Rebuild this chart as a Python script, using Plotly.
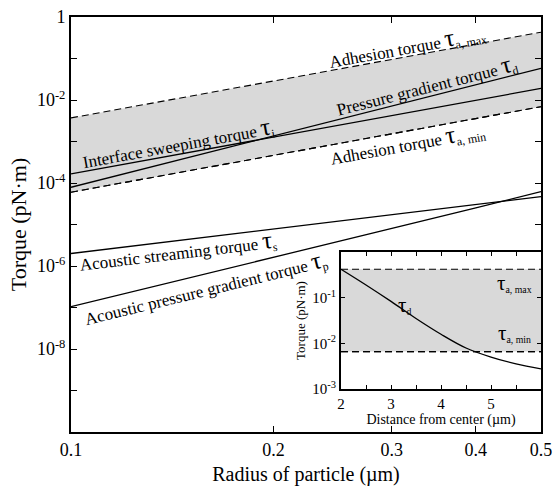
import plotly.graph_objects as go

# ---------------- data ----------------
radius = [0.1, 0.2, 0.3, 0.4, 0.5]  # µm
tau_a_max = [3.7e-3, 2.9e-2, 9.5e-2, 0.22, 0.43]
tau_a_min = [6.0e-5, 4.7e-4, 1.55e-3, 3.6e-3, 6.9e-3]
tau_i = [1.66e-4, 1.29e-3, 4.3e-3, 1.0e-2, 1.9e-2]
tau_d = [7.9e-5, 1.35e-3, 7.1e-3, 2.3e-2, 5.8e-2]
tau_s = [2.0e-6, 7.9e-6, 1.74e-5, 3.0e-5, 4.7e-5]
tau_p = [1.05e-7, 1.6e-6, 8.1e-6, 2.5e-5, 6.2e-5]

y_tickvals = [1, 1e-2, 1e-4, 1e-6, 1e-8]
y_ticktext = ["1", "10<sup>-2</sup>", "10<sup>-4</sup>", "10<sup>-6</sup>", "10<sup>-8</sup>"]
y_minor = [1e-1, 1e-3, 1e-5, 1e-7, 1e-9]
x_tickvals = [0.1, 0.2, 0.3, 0.4, 0.5]
x_ticktext = ["0.1", "0.2", "0.3", "0.4", "0.5"]

# inset: torque vs distance from center (r = 0.5 µm)
distance = [2, 2.5, 3, 3.5, 4, 4.5, 5, 5.5, 6]  # µm
inset_tau_d = [0.42, 0.19, 0.083, 0.035, 0.0158, 0.0079, 0.0050, 0.00355, 0.00275]
inset_range = [2, 6]
inset_ta_max = [0.42, 0.42]
inset_ta_min = [0.0066, 0.0066]
inset_y_tickvals = [1e-1, 1e-2, 1e-3]
inset_y_ticktext = ["10<sup>-1</sup>", "10<sup>-2</sup>", "10<sup>-3</sup>"]
inset_x_tickvals = [2, 3, 4, 5]

FONT = "Liberation Serif"
GRAY = "#d9d9d9"
DASH = "7px,4px"

fig = go.Figure()

# shaded adhesion band (main)
fig.add_trace(go.Scatter(x=radius, y=tau_a_min, mode="lines",
                         line=dict(color="black", width=1.1, dash=DASH),
                         showlegend=False, hoverinfo="skip"))
fig.add_trace(go.Scatter(x=radius, y=tau_a_max, mode="lines", fill="tonexty",
                         fillcolor=GRAY,
                         line=dict(color="black", width=1.1, dash=DASH),
                         showlegend=False, hoverinfo="skip"))
for ys in (tau_i, tau_d, tau_s, tau_p):
    fig.add_trace(go.Scatter(x=radius, y=ys, mode="lines",
                             line=dict(color="black", width=1.3),
                             showlegend=False))
fig.add_trace(go.Scatter(x=radius, y=tau_a_min, mode="lines",
                         line=dict(color="black", width=1.1, dash=DASH),
                         showlegend=False, hoverinfo="skip"))

# inset band
fig.add_trace(go.Scatter(x=inset_range, y=inset_ta_min, mode="lines",
                         line=dict(color="black", width=1.1, dash=DASH),
                         xaxis="x2", yaxis="y2", showlegend=False))
fig.add_trace(go.Scatter(x=inset_range, y=inset_ta_max, mode="lines", fill="tonexty",
                         fillcolor=GRAY,
                         line=dict(color="black", width=1.1, dash=DASH),
                         xaxis="x2", yaxis="y2", showlegend=False))
fig.add_trace(go.Scatter(x=inset_range, y=inset_ta_min, mode="lines",
                         line=dict(color="black", width=1.1, dash=DASH),
                         xaxis="x2", yaxis="y2", showlegend=False))
fig.add_trace(go.Scatter(x=distance, y=inset_tau_d, mode="lines",
                         line=dict(color="black", width=1.3, shape="spline"),
                         xaxis="x2", yaxis="y2", showlegend=False))

axis_common = dict(showline=True, linecolor="black", linewidth=2, mirror="allticks",
                   ticks="inside", tickcolor="black", showgrid=False, zeroline=False,
                   automargin=False, ticklabeloverflow="allow")

fig.update_layout(
    width=553, height=493,
    margin=dict(l=71, r=12, t=17, b=61),
    paper_bgcolor="white", plot_bgcolor="white",
    font=dict(family=FONT, color="black"),
    xaxis=dict(type="log", range=[-1, -0.30103], domain=[0, 1],
               tickvals=x_tickvals, ticktext=x_ticktext, ticklen=6,
               tickfont=dict(size=18, family=FONT),
               title=dict(text="Radius of particle (µm)", font=dict(size=20, family=FONT), standoff=8),
               **axis_common),
    yaxis=dict(type="log", range=[-10, 0], domain=[0, 1],
               tickvals=y_tickvals, ticktext=y_ticktext, ticklen=6,
               minor=dict(tickvals=y_minor, ticks="inside", ticklen=6, tickcolor="black"),
               tickfont=dict(size=18, family=FONT),
               title=dict(text="Torque (pN·m)", font=dict(size=22, family=FONT), standoff=4),
               **axis_common),
    xaxis2=dict(range=inset_range, domain=[0.5745, 1], anchor="y2",
                tickvals=inset_x_tickvals, ticklen=4,
                minor=dict(dtick=0.5, ticks="inside", ticklen=4, tickcolor="black"),
                tickfont=dict(size=15, family=FONT),
                title=dict(text="Distance from center (µm)", font=dict(size=14, family=FONT), standoff=0),
                **axis_common),
    yaxis2=dict(type="log", range=[-3, 0], domain=[0.1036, 0.4337], anchor="x2",
                tickvals=inset_y_tickvals, ticktext=inset_y_ticktext, ticklen=4,
                tickfont=dict(size=15, family=FONT),
                title=dict(text="Torque (pN·m)", font=dict(size=13, family=FONT), standoff=4),
                **axis_common),
)

TAU = "<span style='font-size:25px'>τ</span>"
def lab(text, sub):
    return f"{text} {TAU}<sub>{sub}</sub>"

main_ann = [
    (lab("Adhesion torque", "a, max"), -0.50, -0.72, -10.3),
    (lab("Pressure gradient torque", "d"), -0.47, -1.66, -14.2),
    (lab("Interface sweeping torque", "i"), -0.84, -3.04, -10.3),
    (lab("Adhesion torque", "a, min"), -0.50, -3.04, -10.3),
    (lab("Acoustic streaming torque", "s"), -0.84, -5.66, -6.8),
    (lab("Acoustic pressure gradient torque", "p"), -0.80, -6.53, -13.7),
]
for text, x, y, ang in main_ann:
    fig.add_annotation(text=text, x=x, y=y, xref="x", yref="y", showarrow=False,
                       textangle=ang, font=dict(size=17, family=FONT, color="black"),
                       xanchor="center", yanchor="middle")

TAU_S = "<span style='font-size:21px'>τ</span>"
inset_ann = [
    (f"{TAU_S}<sub>a, max</sub>", 5.46, -0.68),
    (f"{TAU_S}<sub>a, min</sub>", 5.46, -1.77),
    (f"{TAU_S}<sub>d</sub>", 3.26, -1.16),
]
for text, x, y in inset_ann:
    fig.add_annotation(text=text, x=x, y=y, xref="x2", yref="y2", showarrow=False,
                       font=dict(size=14, family=FONT, color="black"),
                       xanchor="center", yanchor="middle")

# remove the default 8px page margin so the figure sits at the window's origin
fig.write_html("out.html",
               config={"displayModeBar": False},
               post_script="document.body.style.margin='0';document.body.style.overflow='hidden';")
